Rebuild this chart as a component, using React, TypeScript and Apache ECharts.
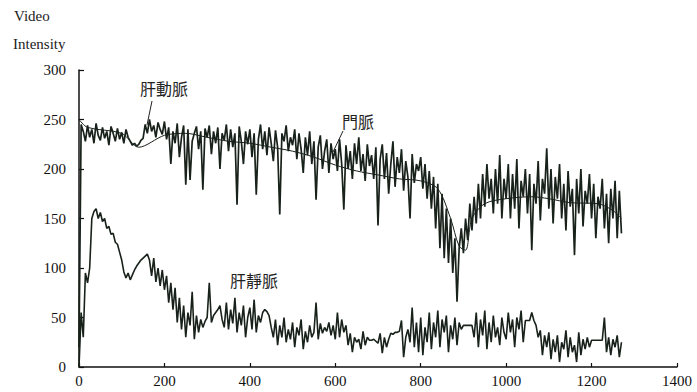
import React, { useEffect, useRef } from "react";
import * as echarts from "echarts";

// Sampling interval (time units) of the two noisy traces
const SAMPLE_STEP = 5;

// 肝動脈 (hepatic artery) – noisy trace, one value every 5 units from 0 to 1270
const arteryValues = [
  20, 245, 238, 228, 244, 232, 240, 226, 246, 234, 229, 242, 231, 238, 224, 243, 236, 228, 241, 230,
  237, 226, 240, 232, 228, 224, 226, 223, 225, 229, 231, 245, 236, 250, 238, 244, 232, 247, 240, 235,
  248, 230, 242, 205, 238, 226, 246, 212, 232, 244, 184, 240, 189, 228, 236, 243, 220, 238, 179, 241,
  232, 244, 215, 238, 226, 242, 200, 236, 229, 245, 218, 240, 222, 236, 164, 243, 228, 205, 238, 225,
  240, 212, 236, 174, 230, 245, 220, 238, 214, 242, 226, 208, 239, 222, 154, 236, 228, 244, 218, 232,
  224, 240, 210, 236, 220, 196, 232, 214, 238, 205, 228, 169, 222, 234, 200, 218, 230, 196, 226, 210,
  220, 198, 230, 205, 159, 224, 200, 218, 190, 226, 205, 232, 198, 215, 188, 225, 203, 214, 190, 222,
  143, 210, 225, 190, 216, 175, 205, 228, 182, 212, 196, 220, 178, 208, 192, 150, 215, 186, 205, 198,
  212, 180, 205, 170, 198, 160, 192, 140, 185, 120, 175, 110, 160, 105, 150, 95, 130, 66, 120, 140,
  115, 150, 128, 165, 138, 172, 145, 185, 150, 195, 162, 205, 170, 190, 155, 200, 165, 214, 150, 190,
  170, 205, 150, 195, 160, 210, 140, 188, 172, 200, 155, 195, 118, 185, 165, 208, 148, 190, 175, 221,
  160, 200, 145, 192, 170, 205, 150, 185, 138, 198, 162, 180, 113, 190, 155, 200, 142, 178, 165, 195,
  150, 185, 130, 172, 160, 190, 140, 175, 125, 180, 150, 188, 130, 178, 135,
];

// 門脈 (portal vein) – smoother trace
const portalTimes = [0, 20, 100, 140, 200, 250, 300, 350, 400, 450, 500, 550, 600, 650, 700, 750, 800, 840, 870, 890, 905, 920, 950, 1000, 1060, 1100, 1150, 1215, 1250, 1270];
const portalValues = [250, 242, 236, 222, 234, 236, 232, 228, 226, 222, 218, 212, 204, 198, 194, 190, 188, 180, 150, 122, 118, 150, 165, 170, 172, 170, 166, 165, 158, 150];

// 肝靜脈 (hepatic vein) – noisy trace, one value every 5 units from 0 to 1270
const veinValues = [
  0, 55, 30, 95, 85, 100, 150, 157, 160, 150, 156, 147, 150, 140, 142, 134, 135, 126, 124, 116,
  108, 96, 90, 95, 88, 93, 98, 102, 105, 108, 110, 112, 114, 108, 92, 110, 86, 100, 82, 98,
  78, 92, 65, 85, 58, 80, 45, 70, 38, 62, 30, 55, 42, 76, 28, 52, 35, 48, 40, 46,
  50, 85, 45, 52, 55, 58, 62, 48, 40, 65, 38, 58, 44, 70, 35, 55, 42, 62, 30, 50,
  60, 38, 68, 35, 52, 45, 55, 58, 56, 52, 40, 30, 48, 22, 42, 30, 50, 25, 38, 28,
  45, 20, 40, 32, 48, 18, 36, 25, 42, 30, 35, 65, 28, 44, 34, 40, 36, 45, 32, 42,
  28, 55, 30, 48, 35, 42, 22, 34, 15, 30, 25, 28, 18, 36, 22, 30, 27, 27, 28, 26,
  24, 34, 14, 30, 20, 28, 34, 33, 35, 35, 36, 47, 10, 30, 38, 25, 60, 20, 45, 15,
  50, 12, 40, 25, 55, 18, 45, 30, 57, 20, 48, 35, 52, 15, 42, 28, 50, 22, 45, 38,
  42, 42, 42, 42, 42, 30, 55, 20, 48, 32, 57, 18, 45, 25, 52, 30, 40, 22, 50, 35,
  28, 55, 35, 48, 20, 50, 38, 57, 25, 47, 47, 47, 55, 47, 42, 30, 37, 12, 32, 20,
  35, 8, 28, 15, 32, 5, 25, 18, 37, 10, 30, 15, 22, 5, 35, 12, 28, 18, 30, 20,
  27, 27, 27, 27, 27, 27, 50, 15, 30, 12, 28, 20, 32, 10, 25,
];

const seriesNames = ["肝動脈", "門脈", "肝靜脈"];
const yTitleLines = ["Video", "Intensity"];

const INK = "#18211a";
const SERIF = "'Liberation Serif', 'DejaVu Serif', serif";
const CJK = "'Noto Sans CJK TC', 'Noto Sans CJK SC', sans-serif";

export default function App() {
  const ref = useRef<HTMLDivElement>(null);

  useEffect(() => {
    if (!ref.current) return;
    const chart = echarts.init(ref.current, undefined, { renderer: "svg" });

    const artery = arteryValues.map((v, i) => [i * SAMPLE_STEP, v]);
    const portal = portalTimes.map((t, i) => [t, portalValues[i]]);
    const vein = veinValues.map((v, i) => [i * SAMPLE_STEP, v]);

    chart.setOption({
      animation: false,
      backgroundColor: "#ffffff",
      grid: { left: 79, right: 20, top: 70, bottom: 25, containLabel: false },
      xAxis: {
        type: "value",
        min: 0,
        max: 1400,
        interval: 200,
        axisLine: { show: true, onZero: false, lineStyle: { color: "#111", width: 1.5 } },
        axisTick: { show: true, inside: true, length: 4, lineStyle: { color: "#111", width: 1.2 } },
        axisLabel: {
          color: "#111",
          fontFamily: SERIF,
          fontSize: 15,
          margin: 6,
          formatter: (v: number) => String(v),
        },
        splitLine: { show: false },
      },
      yAxis: {
        type: "value",
        min: 0,
        max: 300,
        interval: 50,
        axisLine: { show: true, lineStyle: { color: "#111", width: 1.5 } },
        axisTick: { show: true, inside: true, length: 5, lineStyle: { color: "#111", width: 1.2 } },
        axisLabel: { color: "#111", fontFamily: SERIF, fontSize: 15, margin: 13 },
        splitLine: { show: false },
      },
      series: [
        {
          name: seriesNames[0],
          type: "line",
          data: artery,
          symbol: "none",
          lineStyle: { color: INK, width: 1.7 },
          z: 3,
        },
        {
          name: seriesNames[1],
          type: "line",
          data: portal,
          symbol: "none",
          smooth: 0.3,
          lineStyle: { color: INK, width: 1 },
          z: 2,
        },
        {
          name: seriesNames[2],
          type: "line",
          data: vein,
          symbol: "none",
          lineStyle: { color: INK, width: 1.6 },
          z: 3,
        },
      ],
      graphic: [
        { type: "text", left: 14, top: 8, style: { text: yTitleLines[0], font: `15px ${SERIF}`, fill: "#222" } },
        { type: "text", left: 13, top: 36, style: { text: yTitleLines[1], font: `15px ${SERIF}`, fill: "#222" } },
        { type: "text", left: 140, top: 80, style: { text: seriesNames[0], font: `16px ${CJK}`, fill: "#222" } },
        { type: "line", shape: { x1: 152, y1: 101, x2: 147, y2: 125 }, style: { stroke: "#222", lineWidth: 1 } },
        { type: "text", left: 342, top: 113, style: { text: seriesNames[1], font: `16px ${CJK}`, fill: "#222" } },
        { type: "line", shape: { x1: 343, y1: 131, x2: 333, y2: 152 }, style: { stroke: "#222", lineWidth: 1 } },
        { type: "text", left: 230, top: 272, style: { text: seriesNames[2], font: `16px ${CJK}`, fill: "#222" } },
      ],
    });

    return () => chart.dispose();
  }, []);

  return (
    <div
      ref={ref}
      style={{ position: "fixed", left: 0, top: 0, width: 697, height: 392, background: "#fff" }}
    />
  );
}
